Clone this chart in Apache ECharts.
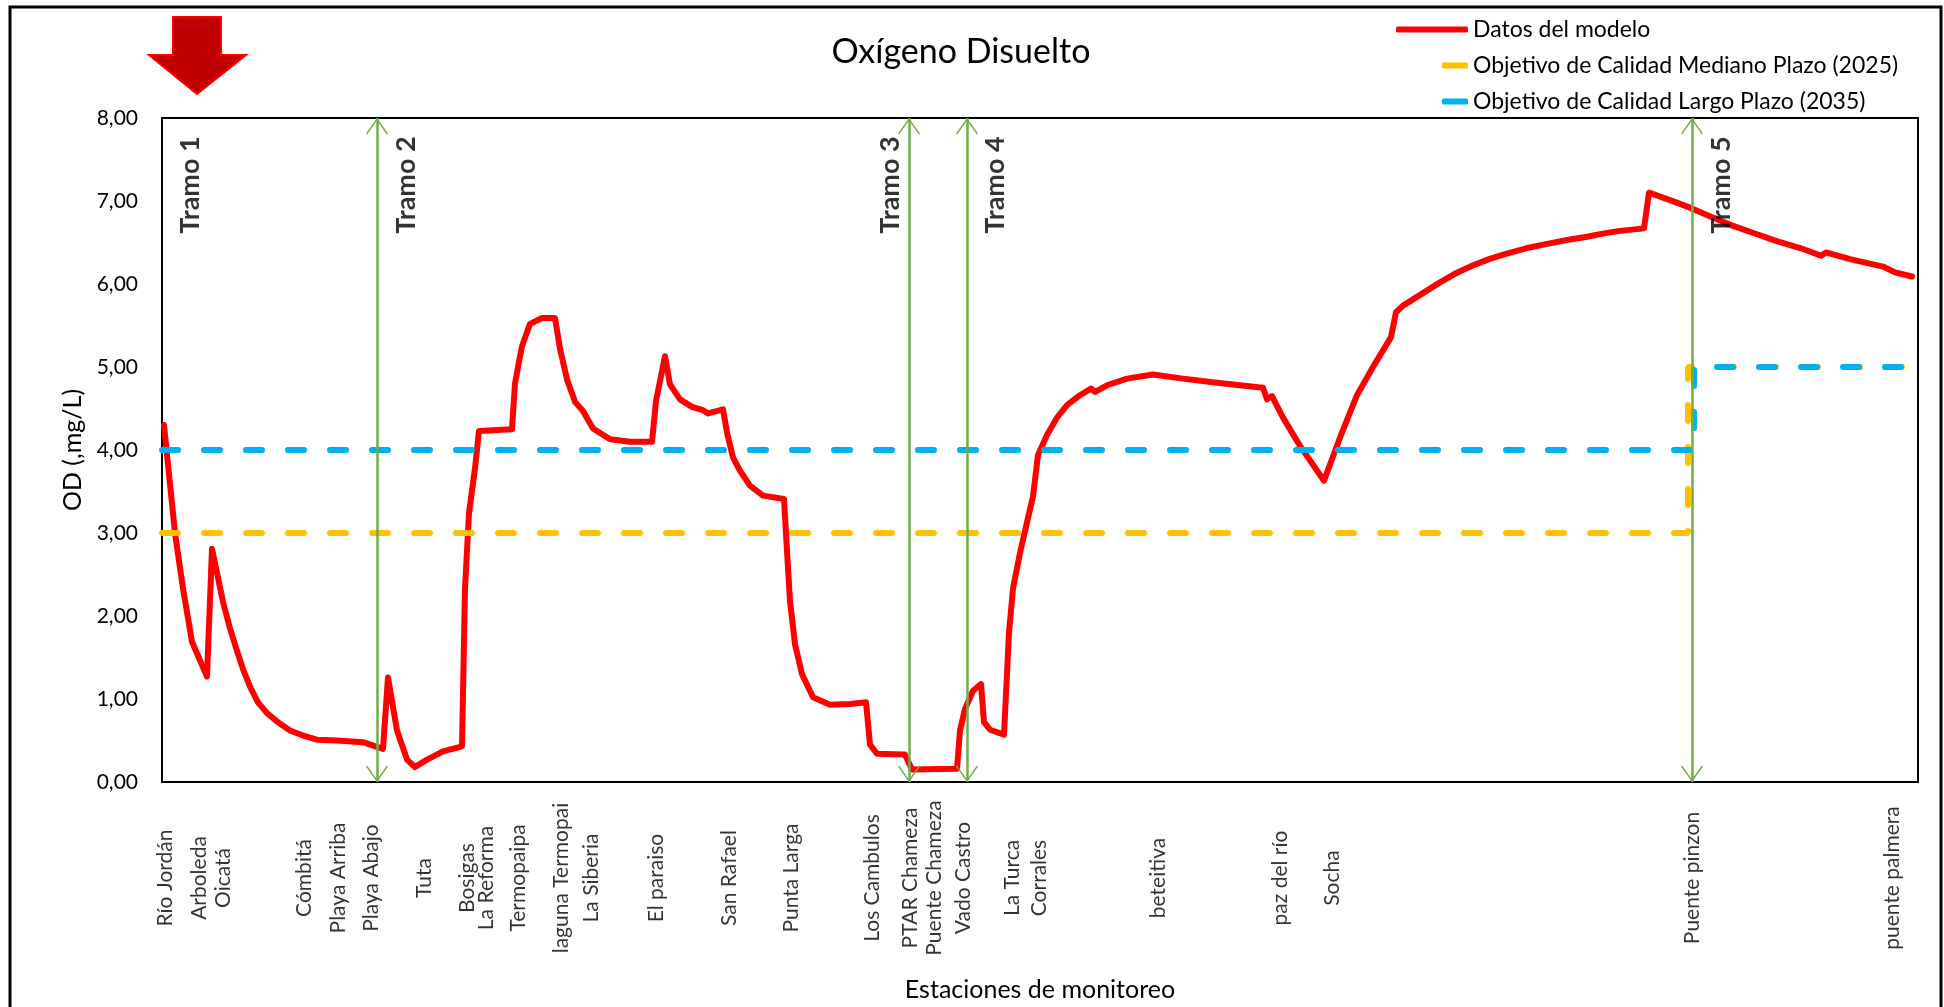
<!DOCTYPE html>
<html>
<head>
<meta charset="utf-8">
<script src="https://cdn.jsdelivr.net/npm/echarts@6/dist/echarts.min.js"></script>
<style>
html,body{margin:0;padding:0;background:#fff;}
#chart{width:1944px;height:1007px;}
</style>
</head>
<body>
<div id="chart"></div>
<script>
// ---- data (abscisa in arbitrary distance units, OD in mg/L) ----
const modelX = [0.2,1.3,2.1,3.0,4.5,5.0,5.5,6.1,6.8,7.5,8.1,8.8,9.6,10.5,11.6,
  12.8,14.1,15.5,17.5,20.1,22.1,22.6,23.5,24.5,25.3,26.5,28.1,
  30.0,30.3,30.7,31.3,31.7,35.0,35.3,35.6,36.0,36.8,
  38.0,39.3,39.8,40.5,41.3,42.1,43.1,44.8,46.8,49.0,
  49.4,50.3,50.8,51.8,53.0,54.1,54.6,56.1,56.5,57.1,
  57.8,58.8,60.1,62.2,62.5,62.8,63.3,64.0,65.1,66.8,
  68.8,70.4,70.8,71.5,74.3,75.0,79.5,79.8,80.3,81.1,
  81.9,82.2,82.8,84.2,84.7,85.1,85.8,86.5,87.1,87.6,
  88.5,89.5,90.5,91.8,92.9,93.3,94.5,96.5,99.1,102.1,
  105.5,108.5,110.1,110.5,111.0,112.1,113.8,116.2,117.9,119.5,
  121.2,122.9,123.4,124.1,125.3,127.8,129.4,131.0,132.7,134.3,136.4,138.4,140.5,142.5,144.2,145.8,
  148.2,148.7,150.8,152.8,154.9,156.9,159.0,161.4,163.9,165.9,
  166.4,168.8,172.1,173.3,175.0];
const modelOD = [4.30,3.00,2.33,1.69,1.27,2.81,2.52,2.17,1.85,1.58,1.36,1.15,0.96,0.83,0.72,
  0.62,0.56,0.51,0.50,0.48,0.40,1.26,0.62,0.27,0.18,0.27,0.37,
  0.43,2.33,3.24,3.78,4.23,4.25,4.80,5.00,5.25,5.52,
  5.59,5.59,5.22,4.85,4.58,4.47,4.26,4.13,4.10,4.10,
  4.59,5.13,4.79,4.61,4.52,4.48,4.44,4.49,4.21,3.91,
  3.75,3.57,3.45,3.41,2.78,2.18,1.66,1.30,1.02,0.93,
  0.94,0.96,0.45,0.34,0.33,0.15,0.16,0.62,0.88,1.10,
  1.18,0.72,0.63,0.57,1.80,2.33,2.76,3.13,3.44,3.94,
  4.18,4.39,4.54,4.66,4.74,4.70,4.78,4.86,4.91,4.86,
  4.81,4.77,4.75,4.61,4.65,4.39,4.05,3.63,4.18,4.66,
  5.02,5.36,5.66,5.74,5.83,6.02,6.13,6.22,6.30,6.36,6.43,6.48,6.53,6.57,6.61,6.64,
  6.67,7.10,7.01,6.92,6.81,6.71,6.62,6.52,6.43,6.34,
  6.38,6.30,6.21,6.14,6.09];

const medianoX  = [0, 152.6, 152.6, 175.6];
const medianoOD = [3, 3, 5, 5];
const largoX    = [0, 153.2, 153.2, 175.6];
const largoOD   = [4, 4, 5, 5];

const stationNames = ['Río Jordán','Arboleda','Oicatá','Cómbitá','Playa Arriba','Playa Abajo','Tuta',
  'Bosigas','La Reforma','Termopaipa','laguna Termopai','La Siberia','El paraiso','San Rafael',
  'Punta Larga','Los Cambulos','PTAR Chameza','Puente Chameza','Vado Castro','La Turca','Corrales',
  'beteitiva','paz del río','Socha','Puente pinzon','puente palmera'];
const stationX = [0.3,3.7,6.1,14.2,17.6,20.9,26.2,30.5,32.4,35.6,39.9,42.9,49.4,56.7,
  62.9,71.0,74.8,77.2,80.1,85.0,87.7,99.6,111.8,117.0,153.0,173.0];

const tramoNames = ['Tramo 1','Tramo 2','Tramo 3','Tramo 4','Tramo 5'];
const tramoLabelX = [2.8, 24.4, 72.8, 83.3, 155.9];
const tramoBoundX = [21.5, 74.7, 80.5, 153.0];

const yTickLabels = ['0,00','1,00','2,00','3,00','4,00','5,00','6,00','7,00','8,00'];

const legendNames = ['Datos del modelo','Objetivo de Calidad Mediano Plazo (2025)','Objetivo de Calidad Largo Plazo (2035)'];

// ---- build ----
const zip = (xs, ys) => xs.map((x, i) => [x, ys[i]]);
const calibri = 'Lato, "Open Sans", sans-serif';
const chevron = 'path://M0,0L0.01,0L0,0.01Z M0,36L0.01,36L0,35.99Z M0,18L11,33.6L9.9,34.4L0,20.4L-9.9,34.4L-11,33.6Z';

const chart = echarts.init(document.getElementById('chart'), null, {renderer: 'canvas'});
chart.setOption({
  animation: false,
  backgroundColor: '#fff',
  title: {
    text: 'Oxígeno Disuelto',
    left: 956, top: 30, textAlign: 'center',
    textStyle: {fontFamily: calibri, fontSize: 34, fontWeight: 'normal', color: '#000'}
  },
  legend: [{
    data: [legendNames[0]],
    icon: 'roundRect',
    left: 1391, top: 13, itemWidth: 72, itemHeight: 6,
    textStyle: {fontFamily: calibri, fontSize: 23, color: '#000'}
  }, {
    data: [legendNames[1], legendNames[2]],
    icon: 'roundRect',
    orient: 'vertical',
    left: 1437, top: 49, itemWidth: 26, itemHeight: 6, itemGap: 13,
    textStyle: {fontFamily: calibri, fontSize: 23, color: '#000'}
  }],
  grid: {left: 162, right: 26, top: 118, bottom: 223, show: true, borderColor: '#000', borderWidth: 2},
  xAxis: {
    type: 'value', min: 0, max: 175.6,
    name: 'Estaciones de monitoreo', nameLocation: 'middle', nameGap: 195,
    nameTextStyle: {fontFamily: calibri, fontSize: 25, color: '#000'},
    axisLine: {show: true, lineStyle: {color: '#000', width: 2}},
    axisTick: {show: false}, axisLabel: {show: false}, splitLine: {show: false}
  },
  yAxis: {
    type: 'value', min: 0, max: 8, interval: 1,
    name: 'OD (,mg/L)', nameLocation: 'middle', nameGap: 71,
    nameTextStyle: {fontFamily: calibri, fontSize: 25, color: '#000'},
    axisLine: {show: true, lineStyle: {color: '#000', width: 2}},
    axisTick: {show: false}, splitLine: {show: false},
    axisLabel: {
      margin: 24, color: '#000', fontFamily: calibri, fontSize: 21,
      formatter: (v) => yTickLabels[Math.round(v)]
    }
  },
  graphic: [{
    type: 'rect', silent: true, z: -1,
    shape: {x: 10, y: 7, width: 1931, height: 1010},
    style: {fill: 'none', stroke: '#000', lineWidth: 3}
  }, {
    type: 'polygon', silent: true,
    shape: {points: [[173,17],[221,17],[221,55],[246,55],[197,94],[149,55],[173,55]]},
    style: {fill: '#C00000', stroke: '#FF0000', lineWidth: 2}
  }],
  series: [{
    name: legendNames[0], type: 'line', data: zip(modelX, modelOD),
    showSymbol: false, symbol: 'none', z: 2,
    lineStyle: {color: '#FF0000', width: 6, join: 'round', cap: 'round'},
    itemStyle: {color: '#FF0000'}
  }, {
    name: legendNames[1], type: 'line', data: zip(medianoX, medianoOD),
    showSymbol: false, symbol: 'none', z: 3,
    lineStyle: {color: '#FFC000', width: 6, type: [16, 26], cap: 'round'},
    itemStyle: {color: '#FFC000'}
  }, {
    name: legendNames[2], type: 'line', data: zip(largoX, largoOD),
    showSymbol: false, symbol: 'none', z: 4,
    lineStyle: {color: '#00B0F0', width: 6, type: [16, 26], cap: 'round'},
    itemStyle: {color: '#00B0F0'}
  }, {
    name: 'tramos', type: 'scatter', clip: false, z: 5,
    symbolSize: 0, silent: true,
    data: tramoLabelX.map((x, i) => ({value: [x, 8], name: tramoNames[i]})),
    label: {
      show: true, position: 'bottom', distance: 67, rotate: 90,
      align: 'center', verticalAlign: 'middle',
      formatter: (p) => p.name,
      fontFamily: calibri, fontSize: 27, fontWeight: 'bold', color: '#000'
    },
    markLine: {
      silent: true, animation: false,
      symbol: [chevron, chevron], symbolSize: [22, 36],
      label: {show: false},
      lineStyle: {color: '#70AD47', width: 2.5, type: 'solid'},
      data: tramoBoundX.map((x) => [{coord: [x, 0]}, {coord: [x, 8]}])
    }
  }, {
    name: 'estaciones', type: 'scatter', clip: false, z: 5,
    symbolSize: 0, silent: true,
    data: stationX.map((x, i) => ({value: [x, 0], name: stationNames[i]})),
    label: {
      show: true, position: 'bottom', distance: 96, rotate: 90,
      align: 'center', verticalAlign: 'middle',
      formatter: (p) => p.name,
      fontFamily: calibri, fontSize: 21, color: '#000'
    }
  }]
});
</script>
</body>
</html>
